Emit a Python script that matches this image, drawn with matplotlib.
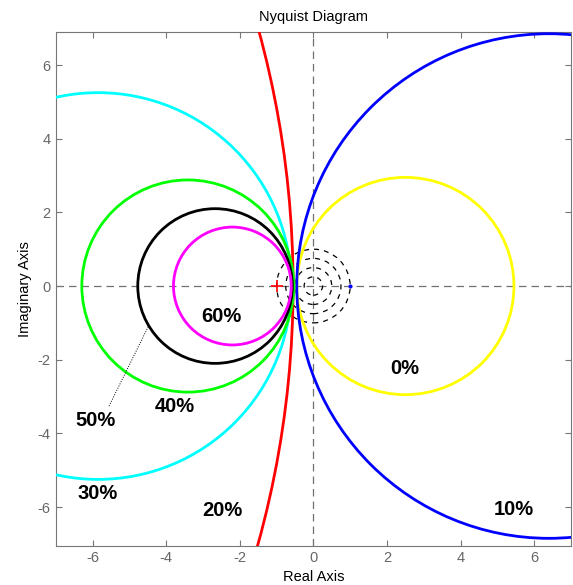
import matplotlib
matplotlib.use("Agg")
import matplotlib.pyplot as plt
from matplotlib.patches import Circle

plt.rcParams["font.family"] = ["Liberation Sans", "DejaVu Sans"]
plt.rcParams["axes.unicode_minus"] = False

# Data
labels = ["0%", "10%", "20%", "30%", "40%", "50%", "60%"]
colors = ["#ffff00", "#0000ff", "#ff0000", "#00ffff", "#00ff00", "#000000", "#ff00ff"]
centers_x = [2.5, 6.4, -26.8, -5.85, -3.41, -2.67, -2.2]
radii = [2.95, 6.85, 26.25, 5.25, 2.88, 2.1, 1.6]
label_x = [2.49, 5.45, -2.46, -5.85, -3.76, -5.93, -2.51]
label_y = [-2.23, -6.06, -6.09, -5.63, -3.26, -3.64, -0.84]
dashed_radii = [0.25, 0.5, 0.75, 1.0]
ticks = [-6, -4, -2, 0, 2, 4, 6]

fig = plt.figure(figsize=(5.73, 5.85), dpi=100)
ax = fig.add_axes([0.0972, 0.0672, 0.8993, 0.8783])
ax.set_xlim(-7, 7)
ax.set_ylim(-7.05, 6.9)

ax.axhline(0, color="#707070", ls=(0, (6, 4)), lw=0.9, zorder=1)
ax.axvline(0, color="#707070", ls=(0, (6, 4)), lw=0.9, zorder=1)

for r in dashed_radii:
    ax.add_patch(Circle((0.0, 0.0), r, fill=False, ec="black", lw=0.9,
                        ls=(0, (4, 4)), zorder=2))

for cx, r, c in zip(centers_x, radii, colors):
    ax.add_patch(Circle((cx, 0.0), r, fill=False, ec=c, lw=2.0, zorder=3))

ax.plot([-1], [0], marker="+", color="red", ms=8, mew=1.2, zorder=4)
ax.plot([1], [0], marker="o", color="blue", ms=2, zorder=4)

for t, x, y in zip(labels, label_x, label_y):
    ax.text(x, y, t, ha="center", va="center", fontsize=14.5, fontweight="bold",
            zorder=5)

ax.plot([-5.55, -4.49], [-3.26, -1.11], color="black", lw=0.7, ls=(0, (1, 1.5)), zorder=4)

ax.set_xticks(ticks)
ax.set_yticks(ticks)
ax.tick_params(direction="in", top=True, right=True, colors="#777777",
               labelcolor="#666666", labelsize=10.5, length=4)
for s in ax.spines.values():
    s.set_color("#777777")
ax.set_title("Nyquist Diagram", fontsize=10.5, pad=8)
ax.set_xlabel("Real Axis", fontsize=10.5)
ax.set_ylabel("Imaginary Axis", fontsize=10.5)

fig.savefig("out.png", dpi=100)
